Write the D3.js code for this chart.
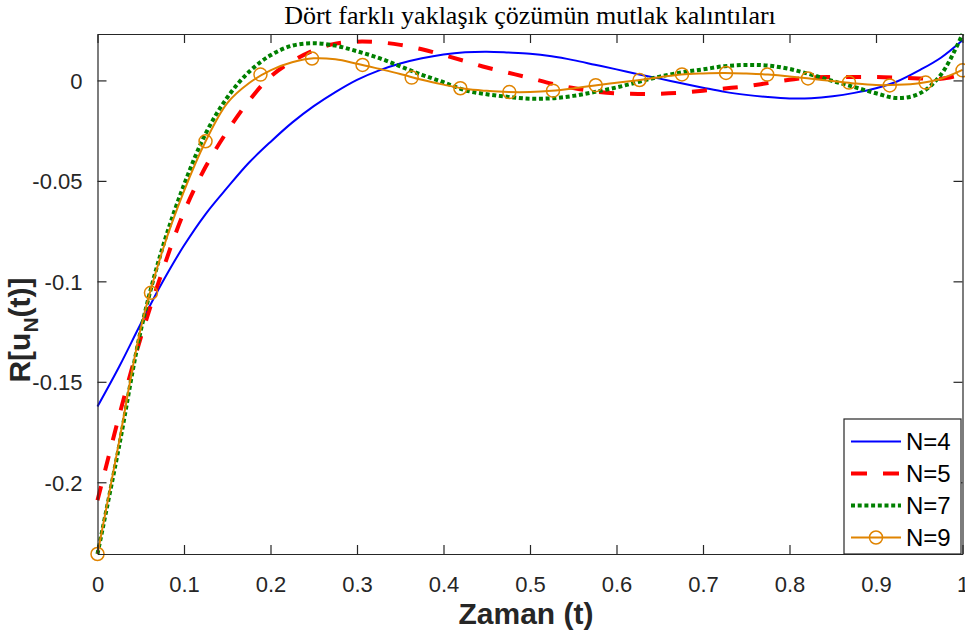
<!DOCTYPE html>
<html>
<head>
<meta charset="utf-8">
<script src="https://cdn.jsdelivr.net/npm/d3@7"></script>
<style>
  body { margin: 0; background: #fff; }
  svg { display: block; }
</style>
</head>
<body>
<div id="chart"></div>
<script>
// time grid shared by all four residual curves
const tValues = [0, 0.025, 0.05, 0.075, 0.1, 0.125, 0.15, 0.175, 0.2, 0.225,
  0.25, 0.275, 0.3, 0.325, 0.35, 0.375, 0.4, 0.425, 0.45, 0.475,
  0.5, 0.525, 0.55, 0.575, 0.6, 0.625, 0.65, 0.675, 0.7, 0.725,
  0.75, 0.775, 0.8, 0.825, 0.85, 0.875, 0.9, 0.925, 0.95, 0.975, 1];

const n4 = [-0.1623, -0.1425, -0.1211, -0.1005, -0.0822, -0.0665, -0.0534, -0.041, -0.0306, -0.021,
  -0.0128, -0.0058, 0.0003, 0.0049, 0.0084, 0.011, 0.0129, 0.014, 0.0143, 0.0139,
  0.0133, 0.012, 0.0101, 0.0078, 0.0055, 0.0031, 0.0009, -0.0014, -0.0036, -0.0057,
  -0.0072, -0.0083, -0.009, -0.0089, -0.0079, -0.0062, -0.0039, -0.0004, 0.005, 0.0113, 0.02];

const n5 = [-0.209, -0.167, -0.128, -0.095, -0.0655, -0.043, -0.0253, -0.0102, 0.0019, 0.0095,
  0.015, 0.0183, 0.0193, 0.019, 0.0177, 0.0155, 0.0126, 0.0096, 0.0064, 0.0038,
  0.0012, -0.0016, -0.0038, -0.0055, -0.0065, -0.0067, -0.0066, -0.0061, -0.0051, -0.004,
  -0.0029, -0.0013, 0.0003, 0.0015, 0.0017, 0.0017, 0.0017, 0.0014, 0.001, 0.0008, 0.003];

const n7 = [-0.2357, -0.182, -0.1245, -0.0835, -0.052, -0.0265, -0.0085, 0.0042, 0.0125, 0.0173,
  0.0185, 0.0173, 0.0145, 0.0112, 0.007, 0.0028, -0.0009, -0.0049, -0.0069, -0.0082,
  -0.0091, -0.0089, -0.0077, -0.0057, -0.0035, -0.0008, 0.0019, 0.004, 0.0055, 0.0071,
  0.0077, 0.0074, 0.0057, 0.0029, -0.0003, -0.0033, -0.0064, -0.0088, -0.0066, 0.0028, 0.0231];

const n9 = [-0.2357, -0.1798, -0.1234, -0.0849, -0.0551, -0.0303, -0.0113, -0.0014, 0.005, 0.009,
  0.011, 0.0105, 0.0083, 0.0058, 0.0032, 0.0003, -0.0021, -0.0042, -0.0052, -0.0058,
  -0.0058, -0.0052, -0.004, -0.0025, -0.0012, 0.0001, 0.0016, 0.003, 0.0035, 0.0037,
  0.0034, 0.0029, 0.002, 0.0008, -0.0003, -0.0015, -0.0023, -0.0022, -0.0014, 0.0008, 0.0052];

// N=9 circle markers
const n9MarkerT = [0, 0.0618, 0.1249, 0.1884, 0.248, 0.3064, 0.3632, 0.4195, 0.4761, 0.5266,
  0.576, 0.6266, 0.6757, 0.7266, 0.7743, 0.8214, 0.8688, 0.9159, 0.9574, 1];
const n9MarkerV = [-0.2357, -0.1057, -0.0303, 0.0029, 0.0109, 0.0077, 0.0014, -0.0039, -0.0058, -0.0051,
  -0.0024, 0.0002, 0.003, 0.0037, 0.0029, 0.001, -0.0011, -0.0025, -0.0011, 0.005];

const seriesNames = ["N=4", "N=5", "N=7", "N=9"];
const xTicks = [0, 0.1, 0.2, 0.3, 0.4, 0.5, 0.6, 0.7, 0.8, 0.9, 1];
const xTickLabels = ["0", "0.1", "0.2", "0.3", "0.4", "0.5", "0.6", "0.7", "0.8", "0.9", "1"];
const yTicks = [-0.2, -0.15, -0.1, -0.05, 0];
const yTickLabels = ["-0.2", "-0.15", "-0.1", "-0.05", "0"];

const W = 965, H = 637;
const margin = { top: 34, right: 2.5, bottom: 83, left: 97.5 };
const axisColor = "#262626";

const svg = d3.select("#chart").append("svg")
  .attr("width", W).attr("height", H);

const x = d3.scaleLinear().domain([0, 1])
  .range([margin.left, W - margin.right]);
const allVals = [].concat(n4, n5, n7, n9);
const y = d3.scaleLinear().domain(d3.extent(allVals))
  .range([H - margin.bottom, margin.top]);

const styles = [
  { color: "#0000ff", width: 2, dash: null },
  { color: "#ff0000", width: 4, dash: "15,16" },
  { color: "#008000", width: 4, dash: "4,2.7" },
  { color: "#e08400", width: 2, dash: null }
];
const data = [n4, n5, n7, n9];

const line = d3.line()
  .x((d, i) => x(tValues[i]))
  .y(d => y(d))
  .curve(d3.curveCatmullRom.alpha(0.5));

const plot = svg.append("g");

data.forEach((vals, k) => {
  plot.append("path")
    .attr("d", line(vals))
    .attr("fill", "none")
    .attr("stroke", styles[k].color)
    .attr("stroke-width", styles[k].width)
    .attr("stroke-dasharray", styles[k].dash)
    .attr("stroke-linejoin", "round");
});

plot.append("g").selectAll("circle")
  .data(n9MarkerT)
  .join("circle")
  .attr("cx", d => x(d))
  .attr("cy", (d, i) => y(n9MarkerV[i]))
  .attr("r", 6.5)
  .attr("fill", "none")
  .attr("stroke", styles[3].color)
  .attr("stroke-width", 1.5);

// axes, MATLAB box style with inward ticks on all four sides
const tickLen = 9;
const xBottom = svg.append("g")
  .attr("transform", `translate(0,${y.range()[0]})`)
  .call(d3.axisBottom(x).tickValues(xTicks).tickSizeInner(-tickLen).tickSizeOuter(0)
    .tickPadding(tickLen + 13).tickFormat((d, i) => xTickLabels[i]));
const xTop = svg.append("g")
  .attr("transform", `translate(0,${y.range()[1]})`)
  .call(d3.axisTop(x).tickValues(xTicks).tickSizeInner(-tickLen).tickSizeOuter(0).tickFormat(""));
const yLeft = svg.append("g")
  .attr("transform", `translate(${x(0)},0)`)
  .call(d3.axisLeft(y).tickValues(yTicks).tickSizeInner(-tickLen).tickSizeOuter(0)
    .tickPadding(tickLen + 6).tickFormat((d, i) => yTickLabels[i]));
const yRight = svg.append("g")
  .attr("transform", `translate(${x(1)},0)`)
  .call(d3.axisRight(y).tickValues(yTicks).tickSizeInner(-tickLen).tickSizeOuter(0).tickFormat(""));

[xBottom, xTop, yLeft, yRight].forEach(g => {
  g.select(".domain").attr("stroke", axisColor).attr("stroke-width", 1.2);
  g.selectAll(".tick line").attr("stroke", axisColor).attr("stroke-width", 1.2);
  g.selectAll(".tick text")
    .attr("fill", axisColor)
    .style("font-family", "'Liberation Sans', Arial, sans-serif")
    .style("font-size", "22px");
});
yLeft.selectAll(".tick text").attr("dy", "0.36em");

// title
svg.append("text")
  .attr("x", (x(0) + x(1)) / 2)
  .attr("y", 24)
  .attr("text-anchor", "middle")
  .style("font-family", "'Liberation Serif', 'DejaVu Serif', serif")
  .style("font-size", "26px")
  .attr("fill", "#000")
  .text("Dört farklı yaklaşık çözümün mutlak kalıntıları");

// x label
svg.append("text")
  .attr("x", (x(0) + x(1)) / 2 - 4)
  .attr("y", 624)
  .attr("text-anchor", "middle")
  .style("font-family", "'Liberation Sans', Arial, sans-serif")
  .style("font-size", "30px")
  .style("font-weight", "bold")
  .attr("fill", axisColor)
  .text("Zaman (t)");

// y label with subscript
const yLab = svg.append("text")
  .attr("transform", `translate(30,${(y.range()[0] + y.range()[1]) / 2 + 36}) rotate(-90)`)
  .attr("text-anchor", "middle")
  .style("font-family", "'Liberation Sans', Arial, sans-serif")
  .style("font-size", "30px")
  .style("font-weight", "bold")
  .attr("fill", axisColor);
yLab.append("tspan").text("R[u");
yLab.append("tspan").attr("dy", 8).style("font-size", "21px").text("N");
yLab.append("tspan").attr("dy", -8).text("(t)]");

// legend
const leg = svg.append("g").attr("transform", "translate(844,419)");
leg.append("rect")
  .attr("width", 117).attr("height", 135)
  .attr("fill", "#fff")
  .attr("stroke", axisColor)
  .attr("stroke-width", 1.2);
seriesNames.forEach((name, k) => {
  const yy = 22.5 + k * 32;
  leg.append("line")
    .attr("x1", 7).attr("x2", 57)
    .attr("y1", yy).attr("y2", yy)
    .attr("stroke", styles[k].color)
    .attr("stroke-width", styles[k].width)
    .attr("stroke-dasharray", k === 1 ? "16,16" : styles[k].dash);
  if (k === 3) {
    leg.append("circle")
      .attr("cx", 32).attr("cy", yy).attr("r", 6.5)
      .attr("fill", "none")
      .attr("stroke", styles[3].color)
      .attr("stroke-width", 1.5);
  }
  leg.append("text")
    .attr("x", 62).attr("y", yy)
    .attr("dy", "0.36em")
    .style("font-family", "'Liberation Sans', Arial, sans-serif")
    .style("font-size", "24px")
    .attr("fill", "#000")
    .text(name);
});
</script>
</body>
</html>
